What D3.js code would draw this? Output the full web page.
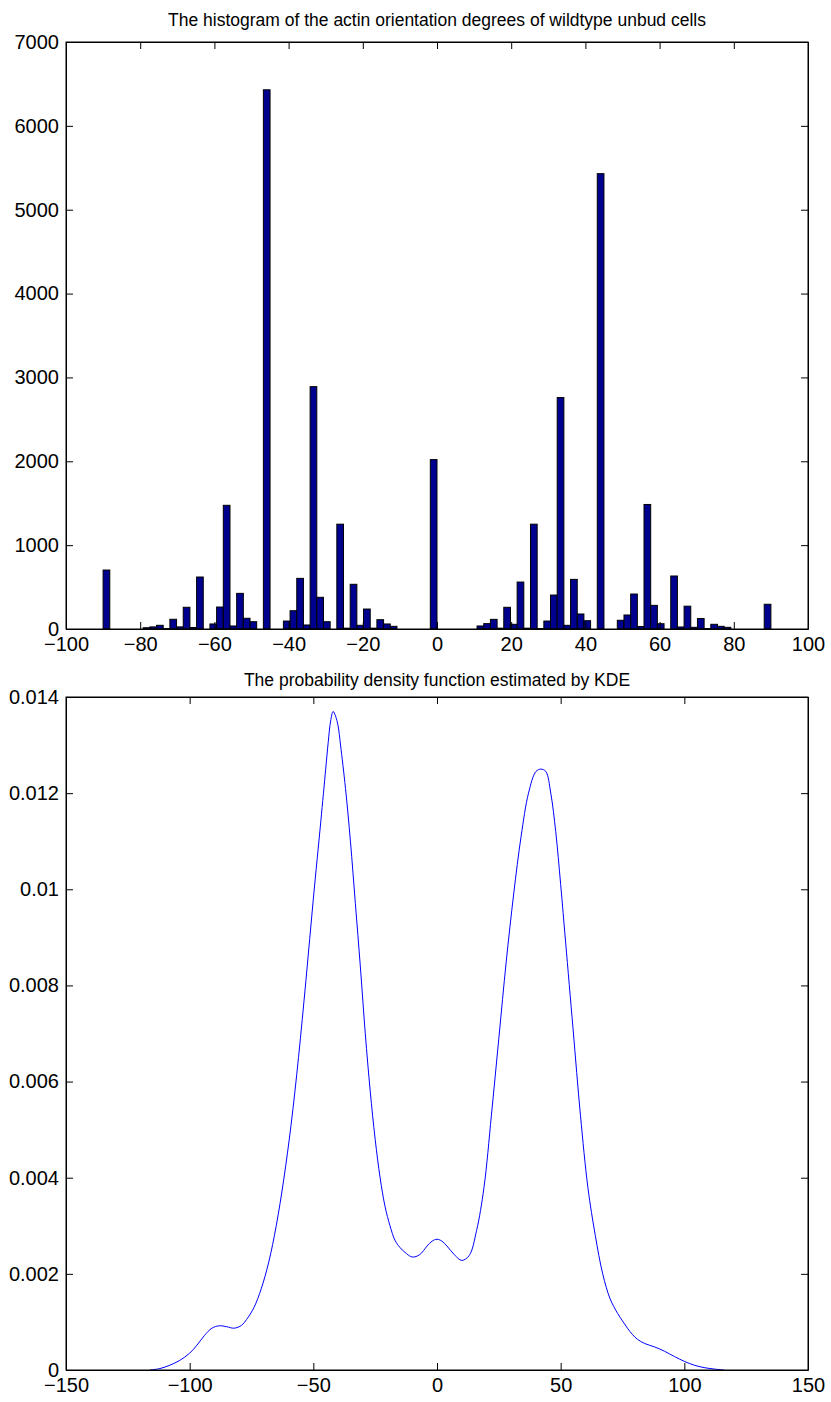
<!DOCTYPE html>
<meta charset="utf-8">
<title>Actin orientation histogram and KDE</title>
<style>
  body { margin: 0; background: #fff; }
  text { font-family: "Liberation Sans", Arial, Helvetica, sans-serif; fill: #000; }
</style>
<body>
  <script src="https://d3js.org/d3.v7.min.js"></script>
  <script>
    const width = 831;
    const height = 1402;

    // histogram: 100 bins over [-90, 90]
    const binCenters = [
      -89.1, -87.3, -85.5, -83.7, -81.9, -80.1, -78.3, -76.5, -74.7, -72.9,
      -71.1, -69.3, -67.5, -65.7, -63.9, -62.1, -60.3, -58.5, -56.7, -54.9,
      -53.1, -51.3, -49.5, -47.7, -45.9, -44.1, -42.3, -40.5, -38.7, -36.9,
      -35.1, -33.3, -31.5, -29.7, -27.9, -26.1, -24.3, -22.5, -20.7, -18.9,
      -17.1, -15.3, -13.5, -11.7, -9.9, -8.1, -6.3, -4.5, -2.7, -0.9,
      0.9, 2.7, 4.5, 6.3, 8.1, 9.9, 11.7, 13.5, 15.3, 17.1,
      18.9, 20.7, 22.5, 24.3, 26.1, 27.9, 29.7, 31.5, 33.3, 35.1,
      36.9, 38.7, 40.5, 42.3, 44.1, 45.9, 47.7, 49.5, 51.3, 53.1,
      54.9, 56.7, 58.5, 60.3, 62.1, 63.9, 65.7, 67.5, 69.3, 71.1,
      72.9, 74.7, 76.5, 78.3, 80.1, 81.9, 83.7, 85.5, 87.3, 89.1
    ];
    const binCounts = [
      703, 0, 0, 0, 0, 0, 15, 25, 44, 5,
      116, 25, 259, 18, 620, 0, 60, 262, 1475, 36,
      425, 128, 87, 0, 6430, 0, 0, 95, 218, 604,
      48, 2890, 378, 87, 0, 1250, 10, 533, 44, 238,
      10, 111, 60, 32, 0, 0, 0, 0, 0, 2020,
      0, 0, 0, 0, 0, 0, 36, 64, 115, 10,
      259, 56, 560, 10, 1250, 5, 95, 405, 2760, 44,
      592, 179, 99, 0, 5430, 0, 0, 104, 167, 417,
      30, 1485, 282, 63, 0, 632, 24, 272, 20, 125,
      5, 56, 32, 20, 0, 0, 0, 0, 0, 295
    ];
    const binWidth = 1.8;
    const histXTicks = [-100, -80, -60, -40, -20, 0, 20, 40, 60, 80, 100];
    const histYTicks = [0, 1000, 2000, 3000, 4000, 5000, 6000, 7000];

    // KDE curve
    const kdeX = [-116, -112, -108, -104, -100, -97, -94, -91, -88, -85, -82, -79, -77, -74, -71, -68, -65, -62, -59, -56, -53, -50, -47, -45, -44, -43, -42, -41, -40, -39, -37, -35, -33, -31, -29, -27, -25, -23, -21, -19, -17, -15, -13, -10, -7, -4, -2, 0, 2, 4, 7, 10, 13, 16, 19, 22, 25, 28, 31, 34, 37, 40, 42, 44, 46, 48, 50, 52, 55, 58, 61, 64, 67, 70, 73, 75, 77, 79, 81, 84, 88, 92, 96, 100, 104, 108, 112, 116];
    const kdeY = [0, 0.00003, 0.0001, 0.0002, 0.00035, 0.00052, 0.00072, 0.00087, 0.00092, 0.0009, 0.00087, 0.00093, 0.00105, 0.0013, 0.0017, 0.00225, 0.003, 0.00395, 0.0051, 0.0065, 0.0081, 0.0098, 0.0114, 0.0125, 0.01305, 0.0135, 0.0137, 0.0136, 0.0134, 0.013, 0.0121, 0.011, 0.0097, 0.0084, 0.007, 0.0058, 0.0048, 0.004, 0.0034, 0.003, 0.0027, 0.00255, 0.00245, 0.00235, 0.0024, 0.00258, 0.00268, 0.00272, 0.00268, 0.00258, 0.0024, 0.00228, 0.00238, 0.0029, 0.0038, 0.0053, 0.0069, 0.0085, 0.0099, 0.0111, 0.012, 0.01245, 0.0125, 0.01245, 0.012, 0.0112, 0.0101, 0.0089, 0.0071, 0.0053, 0.0038, 0.0028, 0.002, 0.00148, 0.00118, 0.00102, 0.00087, 0.00074, 0.00064, 0.00055, 0.00048, 0.00039, 0.00028, 0.00018, 0.0001, 0.00005, 0.00002, 0];
    const kdeXTicks = [-150, -100, -50, 0, 50, 100, 150];
    const kdeYTicks = [0, 0.002, 0.004, 0.006, 0.008, 0.01, 0.012, 0.014];

    const svg = d3.select("body")
      .append("svg")
      .attr("width", width)
      .attr("height", height);

    const fmt = d3.format("~g");

    // draws a MATLAB-like boxed axes with inward ticks on all four sides
    function drawFrame(x, y, xTicks, yTicks, title, titleY) {
      const [x0, x1] = x.range();
      const [y0, y1] = y.range();
      const g = svg.append("g");

      g.append("g")
        .attr("transform", "translate(0," + y0 + ")")
        .call(d3.axisBottom(x).tickValues(xTicks).tickFormat(fmt)
          .tickSizeInner(-7).tickSizeOuter(0).tickPadding(8));
      g.append("g")
        .attr("transform", "translate(0," + y1 + ")")
        .call(d3.axisTop(x).tickValues(xTicks).tickFormat("")
          .tickSizeInner(-7).tickSizeOuter(0));
      g.append("g")
        .attr("transform", "translate(" + x0 + ",0)")
        .call(d3.axisLeft(y).tickValues(yTicks).tickFormat(fmt)
          .tickSizeInner(-7).tickSizeOuter(0).tickPadding(7));
      g.append("g")
        .attr("transform", "translate(" + x1 + ",0)")
        .call(d3.axisRight(y).tickValues(yTicks).tickFormat("")
          .tickSizeInner(-7).tickSizeOuter(0));

      g.selectAll(".tick text").style("font-size", "20px").attr("fill", "#000");
      g.selectAll(".domain, .tick line").attr("stroke", "#000");

      g.append("rect")
        .attr("x", x0).attr("y", y1)
        .attr("width", x1 - x0).attr("height", y0 - y1)
        .attr("fill", "none").attr("stroke", "#000");

      svg.append("text")
        .attr("x", (x0 + x1) / 2)
        .attr("y", titleY)
        .attr("text-anchor", "middle")
        .style("font-size", "17.5px")
        .text(title);
    }

    // ---- top: histogram ----
    const hx = d3.scaleLinear().domain([-100, 100]).range([66, 808]);
    const hy = d3.scaleLinear().domain([0, 7000]).range([629, 42]);

    svg.append("g")
      .selectAll("rect")
      .data(binCenters)
      .enter()
      .append("rect")
      .attr("x", d => hx(d - binWidth / 2))
      .attr("width", d => hx(d + binWidth / 2) - hx(d - binWidth / 2))
      .attr("y", (d, i) => hy(binCounts[i]))
      .attr("height", (d, i) => hy(0) - hy(binCounts[i]))
      .attr("fill", "#00008f")
      .attr("stroke", "#000")
      .attr("stroke-width", 1);

    drawFrame(hx, hy, histXTicks, histYTicks,
      "The histogram of the actin orientation degrees of wildtype unbud cells", 26);

    // ---- bottom: KDE ----
    const kx = d3.scaleLinear().domain([-150, 150]).range([66, 808]);
    const ky = d3.scaleLinear().domain([0, 0.014]).range([1370, 697]);

    const line = d3.line()
      .x((d, i) => kx(kdeX[i]))
      .y(d => ky(d))
      .curve(d3.curveCatmullRom);

    svg.append("path")
      .datum(kdeY)
      .attr("d", line)
      .attr("fill", "none")
      .attr("stroke", "#0000ff")
      .attr("stroke-width", 1);

    drawFrame(kx, ky, kdeXTicks, kdeYTicks,
      "The probability density function estimated by KDE", 686);
  </script>
</body>
